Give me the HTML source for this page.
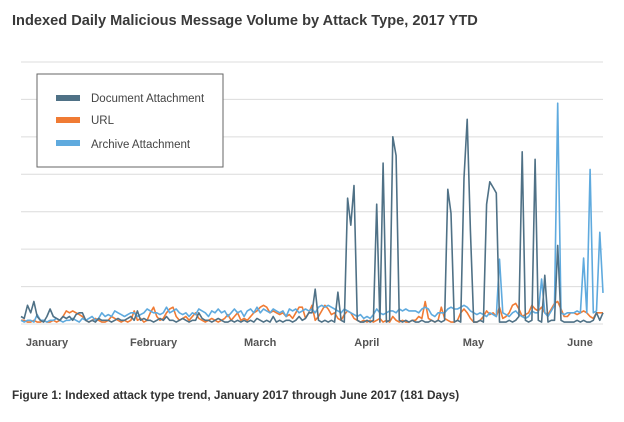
<!DOCTYPE html>
<html><head><meta charset="utf-8"><style>
body{margin:0;background:#fff;font-family:"Liberation Sans",sans-serif}
#wrap{position:relative;width:624px;height:417px}
</style></head><body>
<div id="wrap">
<svg id="chart" width="624" height="417">
<text x="12" y="25" font-size="14.6" font-weight="bold" fill="#3a3a3a">Indexed Daily Malicious Message Volume by Attack Type, 2017 YTD</text>
<g id="grid"></g>
<g id="series"></g>
<g id="xaxis"></g>
<g>
<rect x="37" y="74" width="186" height="93" fill="#fff" stroke="#666" stroke-width="1"/>
<rect x="56" y="95" width="24" height="6" fill="#4f7186"/>
<text x="91" y="102" font-size="11.5" fill="#444">Document Attachment</text>
<rect x="56" y="117" width="24" height="6" fill="#f07b34"/>
<text x="91" y="124" font-size="11.5" fill="#444">URL</text>
<rect x="56" y="140" width="24" height="6" fill="#5faade"/>
<text x="91" y="148" font-size="11.5" fill="#444">Archive Attachment</text>
</g>
<text x="12" y="399" font-size="11.8" font-weight="bold" fill="#333">Figure 1: Indexed attack type trend, January 2017 through June 2017 (181 Days)</text>
</svg>
</div>
<script>
const months=["January","February","March","April","May","June"];
const gridLevels=[0,1,2,3,4,5,6,7];
const docVals=[.2,.15,.5,.3,.6,.2,.1,.05,.2,.4,
.2,.15,.1,.2,.15,.2,.1,.25,.3,.3,
.1,.05,.1,.05,.15,.1,.1,.1,.05,.1,
.15,.1,.1,.15,.2,.1,.35,.1,.15,.1,
.1,.05,.1,.15,.1,.2,.1,.1,.05,.1,
.15,.1,.05,.1,.1,.3,.15,.1,.1,.05,
.1,.15,.1,.05,.05,.1,.05,.1,.05,.1,
.05,.1,.05,.15,.1,.05,.1,.05,.2,.05,
.1,.05,.1,.1,.05,.1,.2,.1,.15,.3,
.3,.93,.1,.05,.1,.05,.1,.05,.85,.1,
.05,3.36,2.64,3.7,.1,.05,.05,.1,.05,.1,
3.2,.05,4.3,.05,.1,5.0,4.5,.1,.05,.1,
.05,.1,.05,.05,.1,.05,.05,.1,.05,.1,
.05,.1,3.6,2.96,.05,.1,.05,3.9,5.47,2.5,
.05,.05,.1,.05,3.2,3.8,3.65,3.5,.05,.05,
.05,.1,.05,.1,.2,4.6,.1,.05,.1,4.4,
.1,.05,1.3,.05,.1,.1,2.1,.1,.05,.05,
.05,.05,.1,.05,.1,.05,.05,.1,.3,.1,.3];
const urlVals=[.1,.1,.05,.05,.1,.05,.05,.1,.05,.05,
.1,.05,.1,.2,.35,.3,.35,.3,.25,.2,
.1,.05,.1,.15,.1,.05,.05,.1,.2,.15,
.1,.05,.1,.05,.1,.35,.1,.15,.05,.1,
.3,.45,.2,.1,.15,.3,.4,.45,.2,.1,
.15,.2,.1,.2,.3,.15,.1,.05,.1,.15,
.1,.05,.1,.15,.25,.1,.2,.3,.1,.15,
.1,.2,.3,.35,.45,.5,.45,.3,.35,.3,
.25,.3,.2,.25,.15,.3,.45,.45,.15,.3,
.5,.1,.2,.35,.5,.4,.25,.3,.15,.1,
.25,.35,.3,.15,.1,.05,.1,.05,.1,.05,
.1,.15,.05,.1,.05,.2,.1,.05,.1,.05,
.05,.1,.1,.2,.15,.6,.15,.1,.05,.1,
.45,.15,.1,.05,.05,.1,.3,.4,.3,.15,
.05,.05,.1,.2,.35,.25,.3,.2,.45,.15,
.2,.3,.5,.55,.4,.2,.25,.3,.5,.4,
.35,.45,.3,.25,.4,.55,.6,.4,.2,.2,
.3,.3,.25,.3,.35,.3,.2,.15,.3,.3,.3];
const archVals=[.1,.05,.1,.1,.05,.25,.1,.1,.05,.1,
.1,.15,.1,.05,.1,.1,.15,.1,.05,.15,
.1,.15,.2,.1,.15,.3,.2,.25,.2,.35,
.3,.25,.2,.25,.3,.3,.2,.25,.3,.4,
.35,.3,.3,.25,.3,.45,.3,.35,.4,.3,
.25,.3,.2,.3,.25,.4,.35,.3,.2,.35,
.3,.4,.3,.35,.2,.3,.4,.3,.35,.2,
.35,.4,.3,.45,.3,.4,.35,.3,.4,.35,
.3,.35,.2,.4,.35,.4,.3,.35,.4,.35,
.4,.3,.45,.5,.45,.5,.45,.4,.35,.3,
.4,.35,.3,.25,.2,.25,.15,.2,.15,.25,
.4,.3,.25,.3,.35,.35,.3,.4,.35,.4,
.35,.35,.35,.3,.4,.45,.4,.25,.2,.3,
.3,.3,.4,.45,.4,.4,.45,.5,.45,.35,
.3,.25,.3,.25,.2,.3,.25,.2,1.73,.3,
.25,.2,.3,.35,.25,.2,.15,.2,.35,.3,
.3,1.2,.3,.2,.35,.5,5.9,.3,.25,.3,
.3,.3,.35,.3,1.76,.3,4.13,.3,.35,2.45,.83];

const NS="http://www.w3.org/2000/svg";
const X0=21,X1=603,Y0=324,UNIT=37.43;
const xScale=i=>X0+i*(X1-X0)/(docVals.length-1);
const yScale=v=>Y0-v*UNIT;
const grid=document.getElementById('grid');
gridLevels.forEach(g=>{
  const l=document.createElementNS(NS,'line');
  l.setAttribute('x1',21);l.setAttribute('x2',603);
  l.setAttribute('y1',yScale(g));l.setAttribute('y2',yScale(g));
  l.setAttribute('stroke','#dcdcdc');l.setAttribute('stroke-width',1);
  
  
  grid.appendChild(l);
});
const ser=document.getElementById('series');
function draw(vals,color,name){
  const p=document.createElementNS(NS,'polyline');
  p.setAttribute('points',vals.map((v,i)=>xScale(i).toFixed(1)+','+yScale(v).toFixed(1)).join(' '));
  p.setAttribute('fill','none');p.setAttribute('stroke',color);p.setAttribute('stroke-width',1.6);
  p.setAttribute('stroke-linejoin','round');
  
  
  ser.appendChild(p);
}
draw(urlVals,'#f07b34','url-line');
draw(archVals,'#5faade','archive-attachment-line');
draw(docVals,'#4f7186','document-attachment-line');
const xa=document.getElementById('xaxis');
months.forEach((m,i)=>{
  const t=document.createElementNS(NS,'text');
  t.setAttribute('x',47+i*106.6);t.setAttribute('y',346);
  t.setAttribute('text-anchor','middle');t.setAttribute('font-size','11');
  t.setAttribute('font-weight','bold');t.setAttribute('fill','#555');
  t.textContent=m;
  
  
  xa.appendChild(t);
});
</script>
</body></html>
